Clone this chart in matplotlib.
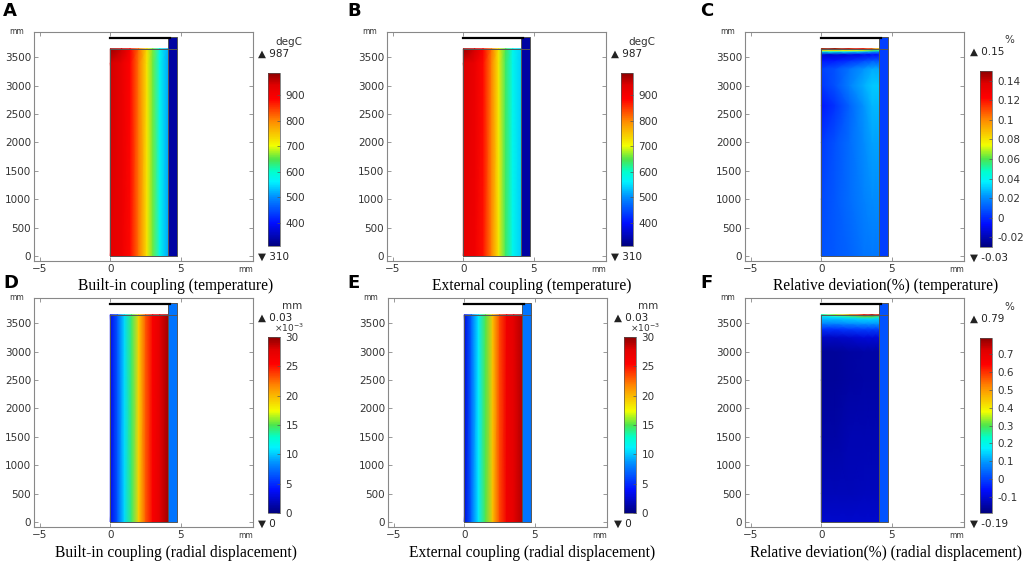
import numpy as np
import matplotlib
matplotlib.use("Agg")
import matplotlib.pyplot as plt
from matplotlib.colors import LinearSegmentedColormap, Normalize

# ---- data ----
# temperature, built-in coupling (degC)
a_r = [0, 0.8, 1.4, 2.0, 2.6, 3.0, 3.5, 4.1]
a_z = [0, 3400, 3650]
a_vals = [
    [930, 915, 880, 810, 725, 660, 575, 515],
    [945, 925, 885, 812, 725, 660, 575, 515],
    [980, 950, 898, 820, 728, 662, 577, 518],
]
a_strip = 335

# temperature, external coupling (degC)
b_r = [0, 0.8, 1.4, 2.0, 2.5, 3.0, 3.5, 4.1]
b_z = [0, 3400, 3650]
b_vals = [
    [925, 910, 875, 800, 720, 640, 575, 540],
    [940, 920, 880, 802, 720, 640, 575, 540],
    [980, 945, 892, 810, 725, 645, 577, 542],
]
b_strip = 335

# relative deviation of temperature (%)
c_r = [0, 1, 2, 3, 3.6, 4.1]
c_z = [0, 1000, 2000, 2650, 3000, 3300, 3450, 3550, 3600, 3625, 3650]
c_vals = [
    [0.008, 0.010, 0.012, 0.015, 0.016, 0.016],
    [0.006, 0.010, 0.014, 0.018, 0.020, 0.020],
    [0.003, 0.008, 0.014, 0.020, 0.024, 0.024],
    [-0.004, 0.002, 0.012, 0.022, 0.027, 0.027],
    [0.002, 0.008, 0.018, 0.026, 0.030, 0.030],
    [0.004, 0.008, 0.015, 0.022, 0.025, 0.025],
    [-0.005, -0.004, 0.000, 0.005, 0.008, 0.008],
    [-0.015, -0.015, -0.013, -0.010, -0.008, -0.005],
    [0.040, 0.040, 0.035, 0.030, 0.025, 0.020],
    [0.080, 0.080, 0.075, 0.070, 0.060, 0.050],
    [0.150, 0.150, 0.140, 0.130, 0.110, 0.080],
]
c_strip = 0.004

# radial displacement, built-in coupling (x1e-3 mm)
d_r = [0, 0.5, 1.0, 1.5, 2.0, 2.5, 3.0, 3.5, 4.1]
d_z = [0, 3650]
d_vals = [
    [3.5, 6.5, 10.5, 14.5, 19.0, 23.0, 26.0, 27.5, 29.5],
    [3.5, 6.5, 10.5, 14.5, 19.0, 23.0, 26.0, 27.5, 29.5],
]
d_strip = 7.5

# radial displacement, external coupling (x1e-3 mm)
e_r = [0, 0.5, 1.0, 1.5, 2.0, 2.5, 3.0, 3.5, 4.1]
e_z = [0, 3650]
e_vals = [
    [3.0, 7.0, 11.0, 15.0, 19.5, 23.5, 26.5, 27.5, 29.0],
    [3.0, 7.0, 11.0, 15.0, 19.5, 23.5, 26.5, 27.5, 29.0],
]
e_strip = 7.5

# relative deviation of radial displacement (%)
f_r = [0, 1, 2, 3, 3.6, 4.1]
f_z = [0, 500, 1500, 2500, 3000, 3250, 3400, 3500, 3580, 3620, 3650]
f_vals = [
    [-0.11, -0.11, -0.11, -0.11, -0.11, -0.11],
    [-0.13, -0.13, -0.13, -0.125, -0.125, -0.125],
    [-0.15, -0.15, -0.14, -0.14, -0.14, -0.14],
    [-0.16, -0.16, -0.155, -0.15, -0.15, -0.15],
    [-0.16, -0.16, -0.155, -0.15, -0.15, -0.15],
    [-0.12, -0.12, -0.11, -0.10, -0.10, -0.10],
    [-0.02, -0.02, -0.01, 0.00, 0.00, 0.00],
    [0.08, 0.08, 0.09, 0.10, 0.10, 0.10],
    [0.13, 0.13, 0.14, 0.15, 0.15, 0.14],
    [0.15, 0.18, 0.25, 0.30, 0.30, 0.25],
    [0.25, 0.35, 0.50, 0.65, 0.75, 0.60],
]
f_strip = 0.02

temp_range = [310, 987]
temp_ticks = [400, 500, 600, 700, 800, 900]
c_range = [-0.03, 0.15]
c_ticks = [-0.02, 0, 0.02, 0.04, 0.06, 0.08, 0.1, 0.12, 0.14]
disp_range = [0, 30]
disp_ticks = [0, 5, 10, 15, 20, 25, 30]
f_range = [-0.19, 0.79]
f_ticks = [-0.1, 0, 0.1, 0.2, 0.3, 0.4, 0.5, 0.6, 0.7]

titles = [
    "Built-in coupling (temperature)",
    "External coupling (temperature)",
    "Relative deviation(%) (temperature)",
    "Built-in coupling (radial displacement)",
    "External coupling (radial displacement)",
    "Relative deviation(%) (radial displacement)",
]
letters = ["A", "B", "C", "D", "E", "F"]

# geometry of the model (mm)
R_CORE, R_OUT = 4.1, 4.75
H_CORE, H_OUT, H_LINE = 3650, 3850, 3840

W, H = 1024, 562
rainbow = LinearSegmentedColormap.from_list("comsol_rainbow", [
    (0.0, (0.0, 0.0, 0.5)),
    (0.13, (0.0, 0.05, 1.0)),
    (0.28, (0.0, 0.55, 1.0)),
    (0.37, (0.0, 0.95, 1.0)),
    (0.43, (0.0, 1.0, 0.8)),
    (0.5, (0.3, 0.9, 0.3)),
    (0.58, (0.95, 1.0, 0.0)),
    (0.72, (1.0, 0.55, 0.0)),
    (0.85, (1.0, 0.0, 0.0)),
    (0.93, (0.88, 0.0, 0.0)),
    (1.0, (0.55, 0.0, 0.0)),
])


def px_axes(fig, x, y, w, h):
    return fig.add_axes([x / W, 1 - (y + h) / H, w / W, h / H])


def px_text(fig, x, y, s, **kw):
    return fig.text(x / W, 1 - y / H, s, **kw)


def fmt(v):
    return ("%g" % v)


def draw_panel(fig, box, cbox, r, z, vals, strip, vrange, ticks, unit,
               top_lbl, bot_lbl, mult=None):
    x, y, w, h = box
    ax = px_axes(fig, x, y, w, h)
    norm = Normalize(vmin=vrange[0], vmax=vrange[1])
    rr, zz = np.meshgrid(r, z)
    mesh = ax.pcolormesh(rr, zz, np.array(vals), shading="gouraud",
                         cmap=rainbow, norm=norm)
    ax.pcolormesh([R_CORE, R_OUT], [0, H_OUT], [[strip]], cmap=rainbow,
                  norm=norm, shading="flat")
    edge = "#555555"
    ax.plot([0, R_CORE, R_CORE, 0, 0], [0, 0, H_CORE, H_CORE, 0],
            color=edge, lw=0.7)
    ax.plot([R_CORE, R_OUT, R_OUT, R_CORE, R_CORE], [0, 0, H_OUT, H_OUT, 0],
            color=edge, lw=0.7)
    ax.plot([R_CORE, R_OUT], [H_CORE, H_CORE], color=edge, lw=0.7)
    ax.plot([0, R_CORE + 0.1], [H_LINE, H_LINE], color="black", lw=1.6)
    ax.set_xlim(-5.4, 10.1)
    ax.set_ylim(-90, 3945)
    ax.set_xticks([-5, 0, 5])
    ax.set_yticks(range(0, 3501, 500))
    ax.tick_params(direction="in", top=True, right=True, length=3,
                   width=0.6, labelsize=7.5, colors="#888888",
                   labelcolor="#333333", pad=2)
    for s in ax.spines.values():
        s.set_color("#888888")
        s.set_linewidth(0.8)
    px_text(fig, x - 17, y, "mm", fontsize=5.5, color="#333333",
            ha="center", va="center")
    px_text(fig, x + w, y + h + 9, "mm", fontsize=5.5, color="#333333",
            ha="right", va="center")

    cx, cy, cw, ch = cbox
    cax = px_axes(fig, cx, cy, cw, ch)
    cb = fig.colorbar(mesh, cax=cax, ticks=ticks)
    cb.ax.set_yticklabels([fmt(t) for t in ticks])
    cb.ax.tick_params(direction="in", length=2, width=0.5, labelsize=7.5,
                      colors="#555555", labelcolor="#333333", pad=4)
    cb.outline.set_linewidth(0.5)
    cb.outline.set_edgecolor("#555555")

    px_text(fig, cx + cw + 22, cy - 31, unit, fontsize=7.5, color="#333333",
            ha="right", va="center")
    px_text(fig, cx - 10, cy - 19, "\u25B2 " + top_lbl, fontsize=7.5,
            color="#222222", ha="left", va="center")
    px_text(fig, cx - 10, cy + ch + 11, "\u25BC " + bot_lbl, fontsize=7.5,
            color="#222222", ha="left", va="center")
    if mult:
        px_text(fig, cx + cw + 24, cy - 9, mult, fontsize=6.5,
                color="#333333", ha="right", va="center")
    return ax


fig = plt.figure(figsize=(W / 100, H / 100), dpi=100)

panels = [
    ((34, 32, 219, 229), (268, 73, 12, 173), a_r, a_z, a_vals, a_strip,
     temp_range, temp_ticks, "degC", "987", "310", None),
    ((387, 32, 219, 229), (621, 73, 12, 173), b_r, b_z, b_vals, b_strip,
     temp_range, temp_ticks, "degC", "987", "310", None),
    ((745, 32, 219, 229), (980, 71, 12, 176), c_r, c_z, c_vals, c_strip,
     c_range, c_ticks, "%", "0.15", "-0.03", None),
    ((34, 298, 219, 229), (268, 337, 12, 176), d_r, d_z, d_vals, d_strip,
     disp_range, disp_ticks, "mm", "0.03", "0", "\u00D710$^{-3}$"),
    ((388, 298, 219, 229), (624, 337, 12, 176), e_r, e_z, e_vals, e_strip,
     disp_range, disp_ticks, "mm", "0.03", "0", "\u00D710$^{-3}$"),
    ((745, 298, 219, 229), (980, 338, 12, 175), f_r, f_z, f_vals, f_strip,
     f_range, f_ticks, "%", "0.79", "-0.19", None),
]

for p in panels:
    draw_panel(fig, *p)

title_x = [176, 532, 886]
title_y = [286, 553]
letter_x = [3, 347, 700]
letter_y = [11, 283]
for i, t in enumerate(titles):
    col, row = i % 3, i // 3
    px_text(fig, title_x[col], title_y[row], t, fontsize=11.2,
            family="Liberation Serif", ha="center", va="center")
    px_text(fig, letter_x[col], letter_y[row], letters[i], fontsize=13,
            fontweight="bold", ha="left", va="center")

fig.savefig("out.png", dpi=100)
